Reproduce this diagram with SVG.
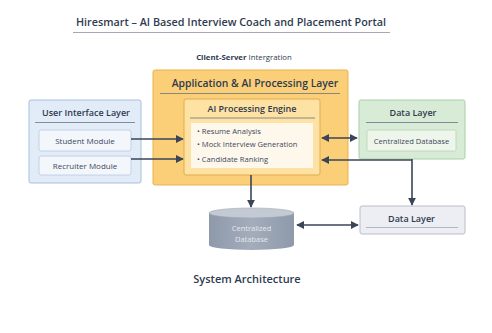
<svg xmlns="http://www.w3.org/2000/svg" width="492" height="333" viewBox="0 0 492 333">
  <style>
    text { font-family: "Open Sans", "Noto Sans", sans-serif; fill: #2f3b4f; }
    .title { font-size: 10.8px; font-weight: 600; }
    .hdr { font-size: 9px; font-weight: 600; }
    .lbl { font-size: 8px; fill: #3d475a; }
    .sub { font-size: 7.6px; fill: #3d475a; }
    .rule { stroke: #6b7483; stroke-width: 0.8; }
    .link { stroke: #3b4558; stroke-width: 1.6; fill: none; }
  </style>
  <defs>
    <marker id="ah" viewBox="0 0 10 10" refX="9" refY="5" markerWidth="5" markerHeight="5" orient="auto-start-reverse">
      <path d="M0,0 L10,5 L0,10 z" fill="#3b4558"/>
    </marker>
    <linearGradient id="cyl" x1="0" x2="1" y1="0" y2="0">
      <stop offset="0" stop-color="#8e99aa"/>
      <stop offset="0.5" stop-color="#a3adbc"/>
      <stop offset="1" stop-color="#8e99aa"/>
    </linearGradient>
  </defs>
  <rect width="492" height="333" fill="#ffffff"/>

  <!-- heading -->
  <text class="title" x="231" y="26" text-anchor="middle">Hiresmart – AI Based Interview Coach and Placement Portal</text>
  <line x1="73" y1="32.5" x2="390" y2="32.5" stroke="#8a93a1" stroke-width="0.8"/>
  <text x="244" y="60" text-anchor="middle" style="font-size:7.8px"><tspan font-weight="700">Client-Server</tspan> Intergration</text>

  <!-- user interface layer -->
  <g id="ui-layer">
    <rect x="29" y="100" width="112" height="83" rx="2" fill="#e2ecf8" stroke="#a7bfdc" stroke-width="1"/>
    <text class="hdr" x="86" y="116" text-anchor="middle">User Interface Layer</text>
    <line class="rule" x1="35" y1="122.5" x2="135" y2="122.5"/>
  </g>
  <g id="student-module">
    <rect x="39" y="130" width="92" height="21" rx="2" fill="#f3f7fc" stroke="#b7c9df" stroke-width="0.8"/>
    <text class="lbl" x="85" y="143.5" text-anchor="middle">Student Module</text>
  </g>
  <g id="recruiter-module">
    <rect x="39" y="156" width="92" height="19" rx="2" fill="#f3f7fc" stroke="#b7c9df" stroke-width="0.8"/>
    <text class="lbl" x="85" y="168.5" text-anchor="middle">Recruiter Module</text>
  </g>

  <!-- application layer -->
  <g id="app-layer">
    <rect x="153" y="70" width="195" height="115" rx="2" fill="#fbcf78" stroke="#e9b24e" stroke-width="1"/>
    <text class="hdr" x="255" y="87" text-anchor="middle" style="font-size:10.4px">Application &amp; AI Processing Layer</text>
    <line class="rule" x1="160" y1="93.5" x2="340" y2="93.5"/>
  </g>
  <g id="ai-engine">
    <rect x="184" y="99" width="136" height="76" rx="2" fill="#fde2a3" stroke="#e2ac50" stroke-width="1"/>
    <text class="hdr" x="252" y="112" text-anchor="middle">AI Processing Engine</text>
    <line class="rule" x1="190" y1="118" x2="315" y2="118"/>
    <rect x="191" y="123" width="122" height="45" fill="#fdf8eb"/>
    <text class="sub" x="197" y="134">• Resume Analysis</text>
    <text class="sub" x="197" y="147">• Mock Interview Generation</text>
    <text class="sub" x="197" y="162">• Candidate Ranking</text>
  </g>

  <!-- data layer -->
  <g id="data-layer">
    <rect x="359" y="100" width="106" height="59" rx="2" fill="#d8ebd6" stroke="#a9cfa8" stroke-width="1"/>
    <text class="hdr" x="413" y="116" text-anchor="middle">Data Layer</text>
    <line class="rule" x1="366" y1="122.5" x2="458" y2="122.5"/>
    <rect x="367" y="130" width="89" height="21" rx="1.5" fill="#eef6ec" stroke="#b5d4b3" stroke-width="0.8"/>
    <text class="sub" x="411.5" y="143.5" text-anchor="middle">Centralized Database</text>
  </g>

  <!-- database cylinder -->
  <g id="central-db">
    <path d="M209,213 L209,245 A42.5,5 0 0 0 294,245 L294,213 Z" fill="url(#cyl)"/>
    <ellipse cx="251.5" cy="213" rx="42.5" ry="5" fill="#c3cad4" stroke="#9ba5b4" stroke-width="0.6"/>
    <text x="251.5" y="231" text-anchor="middle" style="font-size:7.5px;fill:#e4e8ee">Centralized</text>
    <text x="251.5" y="241.5" text-anchor="middle" style="font-size:7.5px;fill:#e4e8ee">Database</text>
  </g>

  <!-- secondary data layer -->
  <g id="data-layer-2">
    <rect x="360" y="206" width="105" height="28" rx="2" fill="#eceef4" stroke="#b9bec9" stroke-width="1"/>
    <text class="hdr" x="411.5" y="222" text-anchor="middle">Data Layer</text>
    <line x1="366" y1="227.5" x2="458" y2="227.5" stroke="#8a93a1" stroke-width="0.6"/>
  </g>

  <!-- connectors -->
  <g id="connectors">
    <line class="link" x1="131" y1="139" x2="183" y2="139" marker-end="url(#ah)"/>
    <line class="link" x1="131" y1="159" x2="183" y2="159" marker-end="url(#ah)"/>
    <line class="link" x1="322" y1="138" x2="357" y2="138" marker-start="url(#ah)" marker-end="url(#ah)"/>
    <line class="link" x1="412" y1="160" x2="322" y2="160" marker-end="url(#ah)"/>
    <line class="link" x1="412" y1="159" x2="412" y2="205" marker-end="url(#ah)"/>
    <line class="link" x1="251" y1="175" x2="251" y2="207" marker-end="url(#ah)"/>
    <line class="link" x1="297" y1="225" x2="358" y2="225" marker-start="url(#ah)" marker-end="url(#ah)"/>
  </g>

  <text x="247" y="283" text-anchor="middle" style="font-size:11px;font-weight:600">System Architecture</text>
</svg>
